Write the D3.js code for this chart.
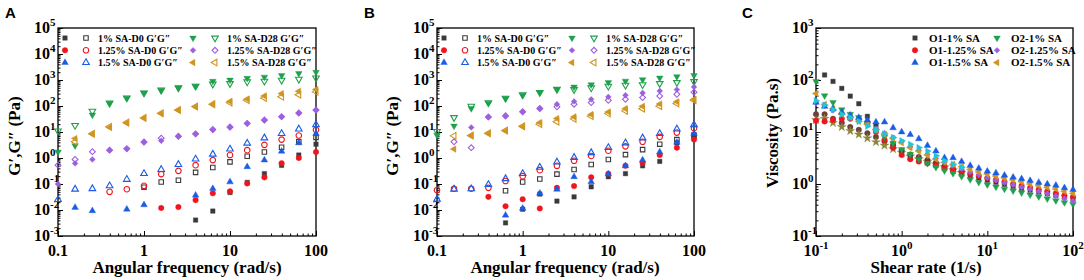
<!DOCTYPE html>
<html>
<head>
<meta charset="utf-8">
<script src="https://cdn.jsdelivr.net/npm/d3@7"></script>
<style>
  body { margin: 0; background: #fff; }
  svg { display: block; }
  text { font-family: "Liberation Serif", "Times New Roman", serif; font-weight: bold; fill: #000; }
  .tag { font-family: "Liberation Sans", Arial, sans-serif; }
</style>
</head>
<body>
<svg id="chart" width="1084" height="280"></svg>
<script>
// ---- data ----
var freq = [0.1, 0.158, 0.251, 0.398, 0.631, 1, 1.585, 2.512, 3.981, 6.31, 10, 15.85, 25.12, 39.81, 63.1, 100];

// panel A : day 0 / day 28, G' (filled) and G'' (open)
var a_1D0_Gp     = [null, null, null, null, null, null, null, null, 0.0041, 0.0091, 0.047, 0.115, 0.25, 0.52, 1.3, 3.4];
var a_1D0_Gpp    = [null, null, null, null, null, 0.075, 0.12, 0.14, 0.28, 0.43, 0.71, 1.17, 1.7, 2.6, 4.2, 6.2];
var a_125D0_Gp   = [null, null, null, null, null, null, 0.012, 0.013, 0.024, 0.044, 0.052, 0.105, 0.18, 0.63, 1.0, 1.7];
var a_125D0_Gpp  = [null, null, null, 0.05, 0.063, 0.085, 0.24, 0.32, 0.53, 0.83, 1.3, 2.0, 3.2, 5.1, 7.3, 12];
var a_15D0_Gp    = [null, 0.0125, 0.0093, null, 0.0107, 0.0158, null, null, 0.037, 0.066, 0.12, 0.46, 0.83, 1.8, 3.8, 8.7];
var a_15D0_Gpp   = [0.025, 0.063, 0.066, 0.085, 0.15, 0.25, 0.36, 0.56, 0.91, 1.4, 2.2, 3.7, 5.9, 8.7, 13, 19];
var a_1D28_Gp    = [1.7, 3, 45, 125, 200, 320, 400, 500, 580, 900, 1000, 1170, 1300, 1500, 1780, 2000];
var a_1D28_Gpp   = [11, 18, 63, 130, 205, 320, 410, 500, 580, 700, 730, 850, 900, 980, 1070, 1200];
var a_125D28_Gp  = [0.1, 0.62, 0.88, 2.0, 2.2, 4.0, 4.6, 6.7, 8.3, 12, 15, 21, 28, 38, 53, 69];
var a_125D28_Gpp = [0.53, 0.88, 1.75, 2.0, 2.3, 4.1, 5.8, 6.9, 8.5, 12.5, 15.5, 21.5, 29, 39, 54, 70];
var a_15D28_Gp   = [null, 5.6, 8.3, 15, 22, 34, 51, 69, 93, 115, 150, 185, 245, 300, 370, 430];
var a_15D28_Gpp  = [null, 4.2, 8.6, 16, 23, 35, 53, 70, 95, 118, 135, 165, 205, 225, 270, 350];

// panel B
var b_1D0_Gp     = [null, null, null, null, 0.0032, 0.0107, 0.041, 0.022, 0.032, 0.078, 0.19, 0.25, 0.5, 0.74, 3.8, 6.5];
var b_1D0_Gpp    = [null, null, null, null, 0.055, 0.12, 0.155, 0.24, 0.36, 0.56, 0.88, 1.35, 2.1, 3.4, 5.1, 7.6];
var b_125D0_Gp   = [null, null, null, 0.032, 0.014, 0.026, 0.0115, 0.071, 0.083, 0.18, 0.25, 0.5, 0.65, 1.3, 2.5, 5.1];
var b_125D0_Gpp  = [0.058, 0.066, 0.066, 0.071, 0.13, 0.2, 0.34, 0.5, 0.78, 1.2, 1.9, 2.8, 4.2, 6.5, 9.5, 14];
var b_15D0_Gp    = [null, null, null, null, 0.0063, 0.0115, 0.044, 0.062, 0.19, 0.12, 0.24, 0.5, 0.83, 1.7, 4.0, 8.7];
var b_15D0_Gpp   = [0.026, 0.063, 0.065, 0.095, 0.16, 0.25, 0.44, 0.7, 1.05, 1.6, 2.5, 3.8, 5.9, 8.7, 13, 19];
var b_1D28_Gp    = [7.6, 17, 80, 130, 195, 260, 330, 430, 540, 660, 800, 910, 1040, 1200, 1350, 1500];
var b_1D28_Gpp   = [10.5, 36, 98, 135, 200, 270, 335, 440, 430, 500, 580, 630, 660, 730, 800, 870];
var b_125D28_Gp  = [null, null, 15, 37, 40, 59, 79, 117, 150, 180, 224, 260, 316, 380, 427, 540];
var b_125D28_Gpp = [null, 4.2, 2.5, 38, 42, 60, 80, 93, 117, 135, 166, 180, 210, 240, 283, 340];
var b_15D28_Gp   = [null, 2.2, 7.1, 8.7, 11, 16, 23, 33, 38, 47, 59, 79, 98, 120, 145, 180];
var b_15D28_Gpp  = [null, 7.1, 7.3, 9, 11.5, 16.5, 20, 25, 32, 40, 51, 65, 79, 98, 124, 166];

// panel C : viscosity vs shear rate
var shear = [0.1, 0.126, 0.158, 0.2, 0.251, 0.316, 0.398, 0.501, 0.631, 0.794, 1, 1.26, 1.585, 2, 2.51, 3.16, 3.98, 5.01, 6.31, 7.94,
             10, 12.6, 15.85, 20, 25.1, 31.6, 39.8, 50.1, 63.1, 79.4, 100];
var c_O1_1   = [null, 125, 94, 69, 49, 35, 20, 13, 9, 6, 4.3, 3.2, 3.0, 2.7, 2.4, 2.1, 1.85, 1.65, 1.45, 1.3, 1.18, 1.08, 0.98, 0.9, 0.82, 0.76, 0.7, 0.65, 0.6, 0.56, 0.52];
var c_O1_125 = [16.5, 16, 17, 18, 18, 17.5, 15, 10, 7, 5, 3.6, 3.0, 2.7, 2.5, 2.3, 2.05, 1.85, 1.7, 1.55, 1.42, 1.3, 1.2, 1.1, 1.0, 0.92, 0.85, 0.78, 0.72, 0.66, 0.6, 0.56];
var c_O1_15  = [37, 31, 28, 24, 21, 19, 17, 15.5, 15.5, 12, 10, 8.9, 7.4, 5.5, 4.3, 3.2, 3.2, 2.7, 2.26, 2.0, 1.76, 1.63, 1.47, 1.35, 1.26, 1.16, 1.07, 1.0, 0.94, 0.84, 0.78];
var c_O2_1   = [94, 50, 37, 27, 22, 19, 14, 10.5, 8, 6, 4.6, 3.7, 3.0, 2.5, 2.1, 1.8, 1.6, 1.4, 1.22, 1.08, 0.97, 0.88, 0.8, 0.74, 0.68, 0.62, 0.57, 0.52, 0.48, 0.44, 0.41];
var c_O2_125 = [36, 32, 26, 23, 19, 17, 14, 11.5, 9.5, 7.8, 6.5, 5.2, 4.4, 3.7, 3.1, 2.6, 2.25, 1.95, 1.7, 1.5, 1.32, 1.18, 1.06, 0.96, 0.87, 0.79, 0.72, 0.65, 0.59, 0.52, 0.47];
var c_O2_15  = [55, 34, 28, 22, 19, 16, 14, 11, 9, 7.5, 6.2, 5.0, 4.3, 3.6, 3.0, 2.6, 2.4, 2.15, 1.9, 1.7, 1.55, 1.42, 1.3, 1.2, 1.1, 1.0, 0.93, 0.86, 0.8, 0.72, 0.66];
// unlabelled extra series in panel C
var c_extraCyan  = [40, 33, 27, 22, 19, 16, 13, 11, 9.2, 7.8, 6.8, 5.8, 5.0, 4.3, 3.5, 2.8, 2.4, 2.1];
var c_extraBrown = [22, 22, 18, 15, 12.5, 11, 9.5, 8, 6.6, 5.5, 4.4, 3.7, 3.3, 2.9, 2.55, 2.2, 1.95, 1.75];
var c_extraOlive = [17, 18, 15, 12.5, 10.5, 9, 7.6, 6.4, 5.5, 4.7, 4, 3.4, 3.0, 2.7, 2.4, 2.1, 1.85, 1.65];

var gLegend = ["1% SA-D0 G\u2032G\u2033", "1.25% SA-D0 G\u2032G\u2033", "1.5% SA-D0 G\u2032G\u2033",
               "1% SA-D28 G\u2032G\u2033", "1.25% SA-D28 G\u2032G\u2033", "1.5% SA-D28 G\u2032G\u2033"];
var cLegend = ["O1-1% SA", "O1-1.25% SA", "O1-1.5% SA", "O2-1% SA", "O2-1.25% SA", "O2-1.5% SA"];
var freqTicks = [0.1, 1, 10, 100];
var freqTickLabels = ["0.1", "1", "10", "100"];

var col = {black: "#3a3a3a", red: "#f0141e", blue: "#1a5ce6", green: "#1fa04c", purple: "#9c5fe0",
           orange: "#cf9520", cyan: "#21c4d8", brown: "#6e3d3d", olive: "#8b8636"};

var svg = d3.select("#chart");

function symPath(shape) {
  if (shape === "square") return {d: d3.symbol().type(d3.symbolSquare).size(20)(), r: 0};
  if (shape === "circle") return {d: d3.symbol().type(d3.symbolCircle).size(24)(), r: 0};
  if (shape === "diamond") return {d: d3.symbol().type(d3.symbolSquare).size(17)(), r: 45};
  if (shape === "star") return {d: d3.symbol().type(d3.symbolStar).size(24)(), r: 0};
  var rot = {up: 0, down: 180, left: -90, right: 90}[shape];
  return {d: d3.symbol().type(d3.symbolTriangle).size(19)(), r: rot};
}

function marker(g, x, y, shape, color, hollow) {
  var s = symPath(shape);
  g.append("path")
    .attr("d", s.d)
    .attr("transform", "translate(" + x + "," + y + ") rotate(" + s.r + ")")
    .attr("fill", hollow ? "none" : color)
    .attr("stroke", color)
    .attr("stroke-width", hollow ? 1.1 : 0.4);
}

function panel(p) {
  var x = d3.scaleLog().domain(p.xDomain).range([p.x0, p.x1]);
  var y = d3.scaleLog().domain(p.yDomain).range([p.y1, p.y0]);
  var g = svg.append("g");

  // minor + major inward ticks
  var xMinor = [], yMinor = [];
  x.ticks().forEach(function(t) { if (!p.xMajor.includes(t)) xMinor.push(t); });
  y.ticks().forEach(function(t) { if (!p.yMajor.includes(t)) yMinor.push(t); });
  var ax = [
    [d3.axisBottom(x).tickValues(xMinor).tickSize(-2.5), "translate(0," + p.y1 + ")"],
    [d3.axisBottom(x).tickValues(p.xMajor).tickSize(-5), "translate(0," + p.y1 + ")"],
    [d3.axisLeft(y).tickValues(yMinor).tickSize(-2.5), "translate(" + p.x0 + ",0)"],
    [d3.axisLeft(y).tickValues(p.yMajor).tickSize(-5), "translate(" + p.x0 + ",0)"]
  ];
  ax.forEach(function(a) {
    var ga = g.append("g").attr("transform", a[1]).call(a[0].tickFormat(""));
    ga.select(".domain").remove();
    ga.selectAll("line").attr("stroke", "#000").attr("stroke-width", 1);
  });

  g.append("rect").attr("x", p.x0).attr("y", p.y0)
    .attr("width", p.x1 - p.x0).attr("height", p.y1 - p.y0)
    .attr("fill", "none").attr("stroke", "#000").attr("stroke-width", 1.3);

  // tick labels
  p.xMajor.forEach(function(t, i) {
    var tx = g.append("text").attr("x", x(t)).attr("y", p.y1 + 20)
      .attr("text-anchor", "middle").attr("font-size", 16);
    if (p.xLabels) tx.text(p.xLabels[i]);
    else {
      tx.append("tspan").text("10");
      tx.append("tspan").attr("dy", -7).attr("font-size", 11).text(Math.round(Math.log10(t)));
    }
  });
  p.yMajor.forEach(function(t) {
    var ty = y(t) + 5;
    g.append("text").attr("x", p.x0 - 8).attr("y", ty)
      .attr("text-anchor", "end").attr("font-size", 16).text("10");
    g.append("text").attr("x", p.x0 - 8).attr("y", ty - 7)
      .attr("font-size", 11).text(Math.round(Math.log10(t)));
  });

  // axis titles
  g.append("text").attr("x", p.xTitleX).attr("y", 273).attr("text-anchor", "middle")
    .attr("font-size", 17).text(p.xTitle);
  g.append("text").attr("transform", "translate(" + p.yTitleX + "," + p.yTitleY + ") rotate(-90)")
    .attr("text-anchor", "middle").attr("font-size", 17).text(p.yTitle);
  g.append("text").attr("class", "tag").attr("x", p.tagX).attr("y", 18)
    .attr("font-size", 15).text(p.tag);

  // data
  p.series.forEach(function(s) {
    s.values.forEach(function(v, i) {
      if (v == null) return;
      marker(g, x(p.xs[i]), y(v), s.shape, s.color, s.hollow);
    });
  });

  // legend
  p.legend.forEach(function(l) {
    var ly = p.y0 + 10 + l.row * 12.3;
    l.marks.forEach(function(m) { marker(g, p.x0 + m.dx, ly, m.shape, m.color, m.hollow); });
    g.append("text").attr("x", p.x0 + l.tx).attr("y", ly + 3.5).attr("font-size", p.legendSize).text(l.label);
  });
}

function gPanel(opts, d) {
  var shapes = ["square", "circle", "up", "down", "diamond", "left"];
  var colors = [col.black, col.red, col.blue, col.green, col.purple, col.orange];
  var series = [], legend = [];
  d.forEach(function(pair, k) {
    series.push({values: pair[0], shape: shapes[k], color: colors[k], hollow: false});
    series.push({values: pair[1], shape: shapes[k], color: colors[k], hollow: true});
    var c = k < 3 ? 0 : 1;
    legend.push({row: k % 3, tx: c ? 169 : 40, label: gLegend[k], marks: [
      {dx: c ? 135 : 7, shape: shapes[k], color: colors[k], hollow: false},
      {dx: c ? 157 : 28, shape: shapes[k], color: colors[k], hollow: true}]});
  });
  panel(Object.assign({
    xDomain: [0.1, 100], yDomain: [1e-3, 1e5], y0: 28, y1: 236,
    xMajor: freqTicks, xLabels: freqTickLabels,
    yMajor: [1e-3, 1e-2, 1e-1, 1, 10, 100, 1e3, 1e4, 1e5],
    xs: freq, xTitle: "Angular frequency (rad/s)", yTitle: "G\u2032,G\u2033 (Pa)", yTitleY: 136,
    series: series, legend: legend, legendSize: 10
  }, opts));
}

gPanel({x0: 58, x1: 316, xTitleX: 187, yTitleX: 20, tag: "A", tagX: 5}, [
  [a_1D0_Gp, a_1D0_Gpp], [a_125D0_Gp, a_125D0_Gpp], [a_15D0_Gp, a_15D0_Gpp],
  [a_1D28_Gp, a_1D28_Gpp], [a_125D28_Gp, a_125D28_Gpp], [a_15D28_Gp, a_15D28_Gpp]]);

gPanel({x0: 437, x1: 694, xTitleX: 565, yTitleX: 398, tag: "B", tagX: 364}, [
  [b_1D0_Gp, b_1D0_Gpp], [b_125D0_Gp, b_125D0_Gpp], [b_15D0_Gp, b_15D0_Gpp],
  [b_1D28_Gp, b_1D28_Gpp], [b_125D28_Gp, b_125D28_Gpp], [b_15D28_Gp, b_15D28_Gpp]]);

(function() {
  var cSeries = [
    {values: c_extraBrown, shape: "circle", color: col.brown},
    {values: c_extraOlive, shape: "star", color: col.olive},
    {values: c_O1_1, shape: "square", color: col.black},
    {values: c_O1_125, shape: "circle", color: col.red},
    {values: c_O2_1, shape: "down", color: col.green},
    {values: c_O2_125, shape: "diamond", color: col.purple},
    {values: c_O2_15, shape: "left", color: col.orange},
    {values: c_O1_15, shape: "up", color: col.blue},
    {values: c_extraCyan, shape: "right", color: col.cyan}
  ];
  var lShapes = ["square", "circle", "up", "down", "diamond", "left"];
  var lColors = [col.black, col.red, col.blue, col.green, col.purple, col.orange];
  var legend = cLegend.map(function(t, k) {
    var c = k < 3 ? 0 : 1;
    return {row: k % 3, tx: c ? 195 : 113, label: t,
            marks: [{dx: c ? 181 : 99, shape: lShapes[k], color: lColors[k], hollow: false}]};
  });
  panel({
    x0: 816, x1: 1073, y0: 28, y1: 236, xDomain: [0.1, 100], yDomain: [0.1, 1000],
    xMajor: [0.1, 1, 10, 100], xLabels: null, yMajor: [0.1, 1, 10, 100, 1000],
    xs: shear, xTitle: "Shear rate (1/s)", xTitleX: 926, yTitle: "Viscosity (Pa.s)",
    yTitleX: 778, yTitleY: 133, tag: "C", tagX: 742, series: cSeries, legend: legend, legendSize: 11
  });
})();
</script>
</body>
</html>
